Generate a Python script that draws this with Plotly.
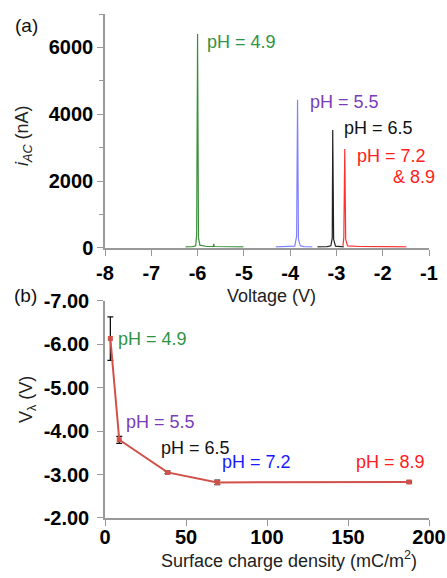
import plotly.graph_objects as go

# ---- Panel (a): AC current spectra ----
v_49 = [-6.26, -6.10, -6.04, -6.02, -6.00, -5.98, -5.95, -5.80, -5.66, -5.65, -5.64, -5.30, -5.01]
i_49 = [30, 35, 60, 400, 6400, 300, 80, 40, 40, 120, 40, 35, 30]
v_55 = [-4.31, -4.00, -3.90, -3.86, -3.84, -3.82, -3.78, -3.70, -3.52]
i_55 = [30, 30, 50, 350, 4430, 250, 60, 35, 30]
v_65 = [-3.41, -3.20, -3.12, -3.09, -3.08, -3.06, -3.02, -2.84]
i_65 = [30, 35, 60, 300, 3530, 250, 50, 30]
v_72 = [-2.86, -2.84, -2.82, -2.80, -2.76, -2.50, -2.00, -1.49]
i_72 = [60, 300, 2960, 250, 60, 40, 35, 30]

# ---- Panel (b): threshold voltage vs surface charge ----
sigma = [3.3, 8.8, 38.6, 69.3, 187.7]
v_lambda = [-6.13, -3.80, -3.05, -2.82, -2.83]
v_err = [0.50, 0.08, 0.03, 0.05, 0.02]

xticks_a = [-8, -7, -6, -5, -4, -3, -2, -1]
xticklabels_a = ["-8", "-7", "-6", "-5", "-4", "-3", "-2", "-1"]
yticks_a = [0, 2000, 4000, 6000]
yticklabels_a = ["0", "2000", "4000", "6000"]
yticks_b = [-7, -6, -5, -4, -3, -2]
yticklabels_b = ["-7.00", "-6.00", "-5.00", "-4.00", "-3.00", "-2.00"]
xticks_b = [0, 50, 100, 150, 200]
xticklabels_b = ["0", "50", "100", "150", "200"]

GREEN = "#2E9444"
PURPLE = "#7A3DB8"
BLUE_LINE = "#8080FF"
RED = "#FF2020"
BLUE_TXT = "#1A1AFF"
LINE_B = "#D0504A"
FONT = "Liberation Sans"

fig = go.Figure()

spectra = [(v_49, i_49, "#3A8F3A"), (v_55, i_55, BLUE_LINE),
           (v_65, i_65, "#222222"), (v_72, i_72, "#FF3030")]
for xs, ys, c in spectra:
    fig.add_trace(go.Scatter(x=xs, y=ys, mode="lines", line=dict(color=c, width=1.2),
                             xaxis="x", yaxis="y", showlegend=False, hoverinfo="skip"))

fig.add_trace(go.Scatter(
    x=sigma, y=v_lambda, mode="lines+markers",
    line=dict(color=LINE_B, width=2),
    marker=dict(symbol="square", size=5, color=LINE_B),
    error_y=dict(type="data", array=v_err, color="#111111", thickness=1.3, width=3),
    xaxis="x2", yaxis="y2", showlegend=False, hoverinfo="skip"))

tickfont = dict(family=FONT, size=20, color="black", weight="bold")
axis_common = dict(showline=True, linecolor="#999999", linewidth=1.5, showgrid=False,
                   zeroline=False, ticks="outside", tickcolor="#999999", ticklen=6,
                   tickfont=tickfont, automargin=False)

fig.update_layout(
    width=447, height=578,
    margin=dict(l=105, r=18, t=14, b=60, autoexpand=False),
    paper_bgcolor="white", plot_bgcolor="white",
    font=dict(family=FONT, color="#333333"),
    xaxis=dict(domain=[0, 1], anchor="y", range=[-8, -1], tickvals=xticks_a,
               ticktext=xticklabels_a, **axis_common),
    yaxis=dict(domain=[0.536, 1], anchor="x", range=[0, 7000], tickvals=yticks_a,
               ticktext=yticklabels_a,
               minor=dict(dtick=1000, ticks="outside", ticklen=4, tickcolor="#999999"),
               **axis_common),
    xaxis2=dict(domain=[0, 1], anchor="y2", range=[0, 200], tickvals=xticks_b,
                ticktext=xticklabels_b, ticklabelstandoff=-6, **axis_common),
    yaxis2=dict(domain=[0, 0.431], anchor="x2", range=[-2, -7], tickvals=yticks_b,
                ticktext=yticklabels_b, ticklabelstandoff=4, **axis_common),
)

def ann(text, x, y, xref, yref, color, size=18, xanchor="left", **kw):
    fig.add_annotation(text=text, x=x, y=y, xref=xref, yref=yref, showarrow=False,
                       xanchor=xanchor, yanchor="middle",
                       font=dict(family=FONT, size=size, color=color), **kw)

H = 504.0
def py(pix):
    return (578 - 60 - pix) / H
def px(pix):
    return (pix - 105) / (447 - 105 - 18)

# Panel (a) labels
ann("pH = 4.9", -5.84, 6160, "x", "y", GREEN)
ann("pH = 5.5", -3.62, 4360, "x", "y", PURPLE)
ann("pH = 6.5", -2.88, 3600, "x", "y", "#111111")
ann("pH = 7.2", -2.59, 2750, "x", "y", RED)
ann("&amp; 8.9", px(437), py(177), "paper", "paper", RED, xanchor="right")

# Panel (b) labels
ann("pH = 4.9", 6.5, -6.12, "x2", "y2", GREEN)
ann("pH = 5.5", 11.5, -4.22, "x2", "y2", PURPLE)
ann("pH = 6.5", 33.5, -3.62, "x2", "y2", "#111111")
ann("pH = 7.2", 71, -3.28, "x2", "y2", BLUE_TXT)
ann("pH = 8.9", 154, -3.28, "x2", "y2", RED)

# Panel letters and axis titles
ann("(a)", px(13), py(25), "paper", "paper", "#111111", size=19)
ann("(b)", px(12), py(295), "paper", "paper", "#111111", size=19)
ann("Voltage (V)", px(271), py(296), "paper", "paper", "#222222", size=18, xanchor="center")
ann("Surface charge density (mC/m<sup>2</sup>)", px(289), py(559), "paper", "paper",
    "#222222", size=18, xanchor="center")
ann("<i>i</i><sub><i>AC</i></sub> (nA)", px(23), py(136), "paper", "paper", "#222222",
    size=18, xanchor="center", textangle=-90)
ann("V<sub>λ</sub> (V)", px(27), py(400), "paper", "paper", "#222222",
    size=18, xanchor="center", textangle=-90)

fig.write_html("out.html", config={"displayModeBar": False},
               post_script="document.body.style.margin='0px';document.body.style.overflow='hidden';")
